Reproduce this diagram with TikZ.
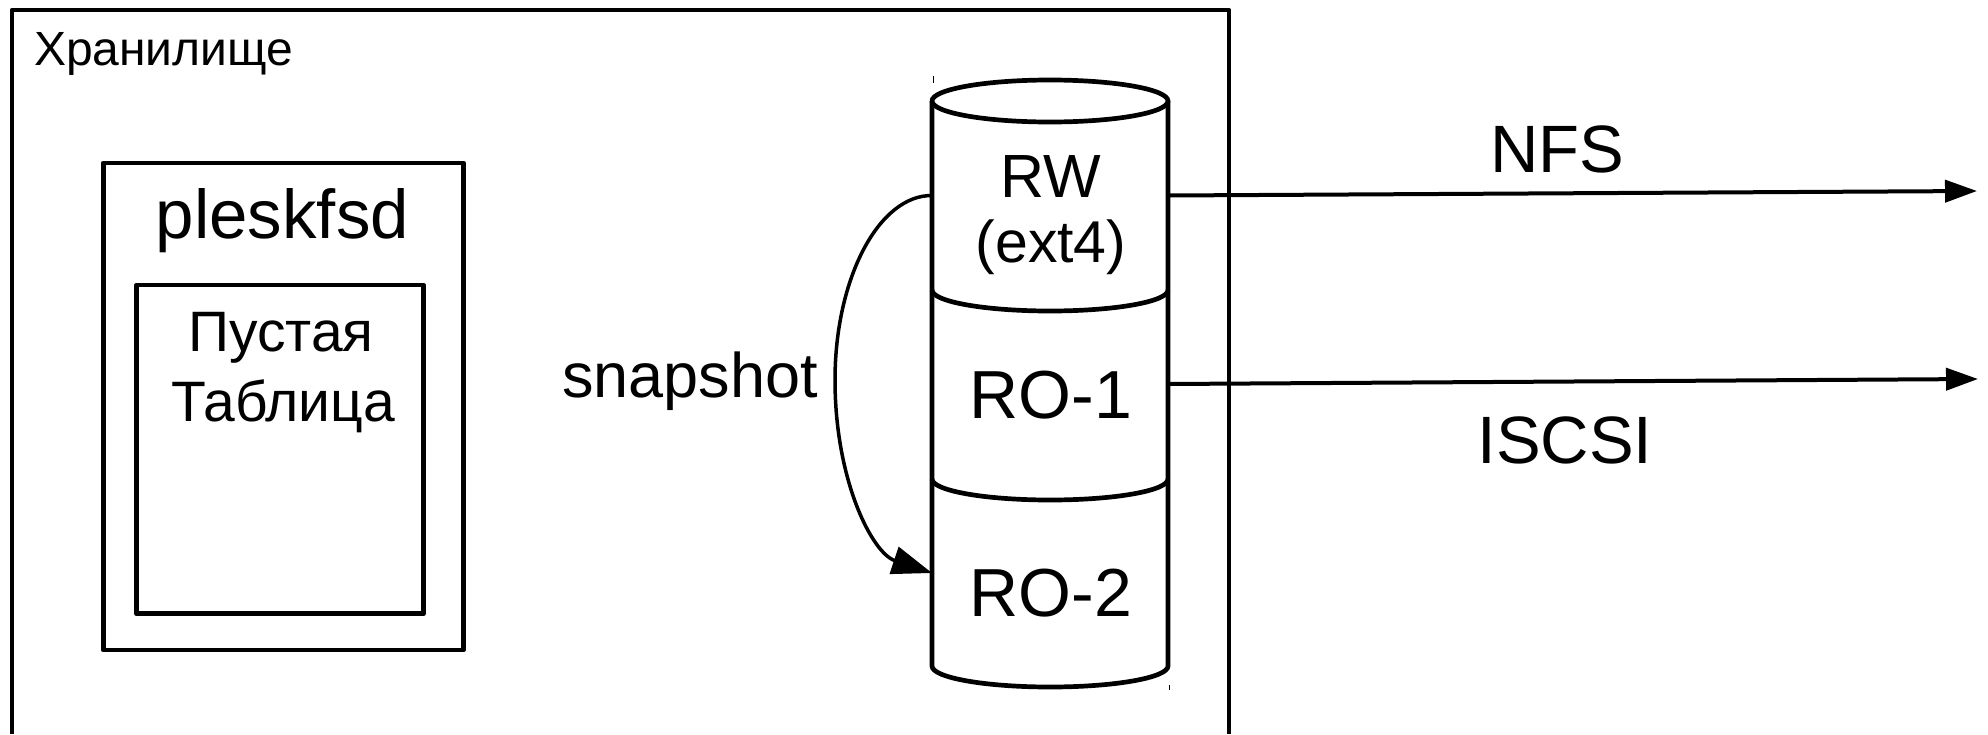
\documentclass[tikz,border=0pt]{standalone}
\usepackage{fontspec}
\setmainfont{Liberation Sans}
\usetikzlibrary{arrows.meta}
\begin{document}
\begin{tikzpicture}[x=1pt,y=-1pt,
  shp/.style={line width=4.7pt, line join=round},
  conn/.style={line width=4pt},
  lbl/.style={anchor=base, inner sep=0pt, outer sep=0pt},
  boxnode/.style={draw, shp, inner sep=0pt, outer sep=0pt},
  sec/.style={draw=none, minimum width=236pt, minimum height=189pt, inner sep=0pt, outer sep=0pt},
  bigtip/.style={-{Triangle[length=32pt,width=22pt]}},
  curvetip/.style={-{Triangle[length=40pt,width=28pt]}}]
\fill[white] (0,0) rectangle (1988,734);
\useasboundingbox (0,0) rectangle (1988,734);
% outer storage frame (continues below the picture)
\draw[shp] (12,734) -- (12,10) -- (1229,10) -- (1229,734);
\node[lbl, anchor=base west] (storelbl) at (34,65) {\fontsize{48}{57}\selectfont Хранилище};
% pleskfsd boxes
\node[boxnode, minimum width=360pt, minimum height=487pt] (plesk) at (283.3,406.5) {};
\node[lbl] (plesklbl) at (282.5,238) {\fontsize{69}{80}\selectfont pleskfsd};
\node[boxnode, minimum width=287pt, minimum height=328.7pt] (tbl) at (280,449.4) {};
\node[lbl] (tbl1) at (281,351.7) {\fontsize{57}{70}\selectfont Пустая};
\node[lbl] (tbl2) at (283,421.7) {\fontsize{57}{70}\selectfont Таблица};
% cylinder
\draw[shp] (932,101) -- (932,666) arc[start angle=180, end angle=360, x radius=118pt, y radius=21pt] -- (1168,101);
\draw[shp] (1050,101) ellipse[x radius=118pt, y radius=21pt];
\draw[shp] (932,290) arc[start angle=180, end angle=360, x radius=118pt, y radius=21pt];
\draw[shp] (932,479) arc[start angle=180, end angle=360, x radius=118pt, y radius=21pt];
\draw[line width=1pt] (933,76) -- (933,83);
\draw[line width=1pt] (1169,685) -- (1169,690);
\node[sec] (rw) at (1050,195.5) {};
\node[sec] (ro1) at (1050,384) {};
\node[sec] (ro2) at (1050,573) {};
\node[lbl] (rwlbl) at (1051,197) {\fontsize{61}{70}\selectfont RW};
\node[lbl] (extlbl) at (1051,262) {\fontsize{59}{70}\selectfont (ext4)};
\node[lbl] (ro1lbl) at (1051,418) {\fontsize{68}{80}\selectfont RO-1};
\node[lbl] (ro2lbl) at (1051,616.7) {\fontsize{68}{80}\selectfont RO-2};
% snapshot curve
\draw[conn, line width=3.5pt, curvetip] (rw.west) .. controls (879,195) and (835,278) .. (835,380) .. controls (835,480) and (872,553) .. (ro2.west);
\node[lbl] (snaplbl) at (690,397) {\fontsize{63}{75}\selectfont snapshot};
% export arrows
\coordinate (nfsend) at (1977,191);
\coordinate (iscsiend) at (1978,379);
\draw[conn, bigtip] (rw.east) -- (nfsend);
\draw[conn, bigtip] (ro1.east) -- (iscsiend);
\node[lbl] (nfslbl) at (1557,172) {\fontsize{67}{78}\selectfont NFS};
\node[lbl] (iscsilbl) at (1565,463) {\fontsize{67}{78}\selectfont ISCSI};
\end{tikzpicture}
\end{document}
